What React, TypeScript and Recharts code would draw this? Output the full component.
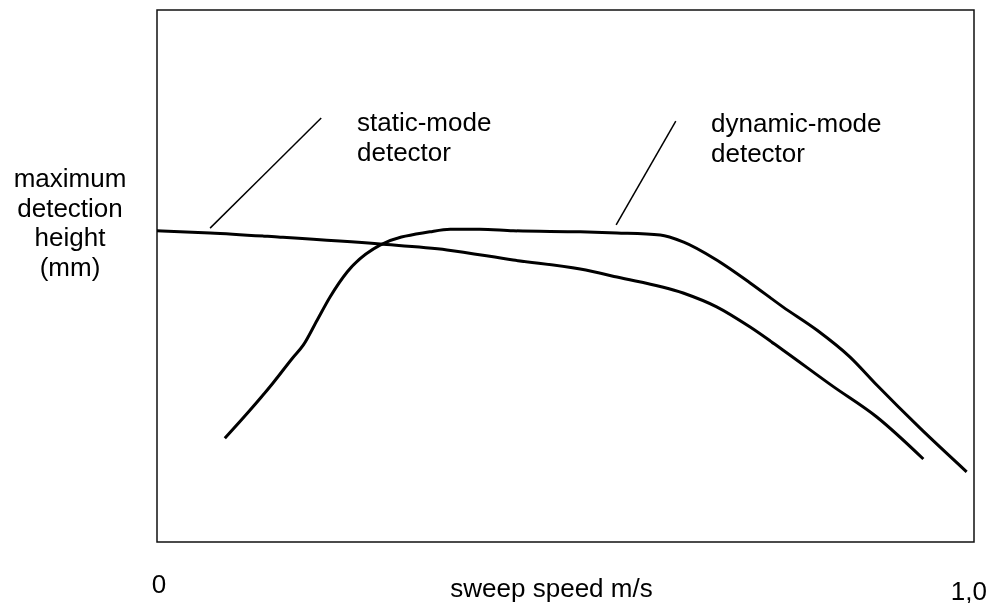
import { LineChart, Line, XAxis, YAxis, ReferenceArea } from 'recharts';

// sweep speed (m/s) and max detection height (arbitrary units, no scale on the original)
const staticSpeed = [0, 0.065, 0.151, 0.273, 0.355, 0.436, 0.518, 0.563, 0.644, 0.685, 0.726, 0.766, 0.827, 0.881, 0.938];
const staticHeight = [58.5, 58.1, 57.3, 56.0, 54.9, 53.0, 51.3, 49.8, 46.8, 44.2, 40.4, 36.1, 29.3, 23.5, 15.6];

const dynamicSpeed = [0.083, 0.114, 0.142, 0.166, 0.179, 0.196, 0.212, 0.233, 0.273, 0.334, 0.359, 0.395, 0.436, 0.518, 0.563, 0.616, 0.644, 0.685, 0.726, 0.766, 0.808, 0.848, 0.881, 0.934, 0.991];
const dynamicHeight = [19.5, 24.8, 29.9, 34.6, 37.0, 41.7, 46.1, 50.8, 55.8, 58.3, 58.8, 58.8, 58.5, 58.3, 58.1, 57.7, 56.4, 53.0, 48.7, 44.2, 39.8, 34.8, 29.5, 21.4, 13.2];

// leader lines from the labels down to each curve
const staticLeader = [
  { x: 0.065, y: 59.0 },
  { x: 0.201, y: 79.7 },
];
const dynamicLeader = [
  { x: 0.562, y: 59.6 },
  { x: 0.635, y: 79.1 },
];

const xTicks = [0, 1];
const xTickLabels = ['0', '1,0'];
const yLabelLines = ['maximum', 'detection', 'height', '(mm)'];

const staticData = staticSpeed.map((x, i) => ({ x, y: staticHeight[i] }));
const dynamicData = dynamicSpeed.map((x, i) => ({ x, y: dynamicHeight[i] }));

const font = '"Liberation Sans", Arial, sans-serif';
const fs = 26;

function Tick(props: any) {
  const { x, y, payload } = props;
  const i = xTicks.indexOf(payload.value);
  const first = i === 0;
  return (
    <text
      x={first ? x + 2 : x + 13}
      y={y + (first ? 51 : 58)}
      textAnchor={first ? 'middle' : 'end'}
      fontSize={fs}
      fontFamily={font}
      fill="#000"
    >
      {xTickLabels[i]}
    </text>
  );
}

export default function App() {
  // fixed so the page never gets scrollbars
  return (
    <div style={{ position: 'fixed', left: 8, top: 8 }}>
      <LineChart width={983} height={595} margin={{ top: 2, right: 17, bottom: 0, left: 149 }}>
        <XAxis
          type="number"
          dataKey="x"
          domain={[0, 1]}
          ticks={xTicks}
          tick={<Tick />}
          tickLine={false}
          axisLine={false}
          tickSize={0}
          tickMargin={0}
          height={61}
          allowDataOverflow
          label={{ value: 'sweep speed m/s', position: 'insideBottom', offset: 6, dx: -14, fontSize: fs, fontFamily: font, fill: '#000' }}
        />
        <YAxis type="number" dataKey="y" domain={[0, 100]} hide allowDataOverflow />
        <ReferenceArea x1={0} x2={1} y1={0} y2={100} fill="none" fillOpacity={0} stroke="#111" strokeWidth={1.5} />
        <Line data={staticData} dataKey="y" type="monotone" stroke="#000" strokeWidth={3} dot={false} isAnimationActive={false} />
        <Line data={dynamicData} dataKey="y" type="monotone" stroke="#000" strokeWidth={3} dot={false} isAnimationActive={false} />
        <Line data={staticLeader} dataKey="y" type="linear" stroke="#000" strokeWidth={1.5} dot={false} isAnimationActive={false} />
        <Line data={dynamicLeader} dataKey="y" type="linear" stroke="#000" strokeWidth={1.5} dot={false} isAnimationActive={false} />
        <g fontFamily={font} fontSize={fs} fill="#000">
          {yLabelLines.map((t, i) => (
            <text key={t} x={62} y={179 + i * 29.5} textAnchor="middle">
              {t}
            </text>
          ))}
          <text x={349} y={123}>static-mode</text>
          <text x={349} y={153}>detector</text>
          <text x={703} y={124}>dynamic-mode</text>
          <text x={703} y={154}>detector</text>
        </g>
      </LineChart>
    </div>
  );
}
